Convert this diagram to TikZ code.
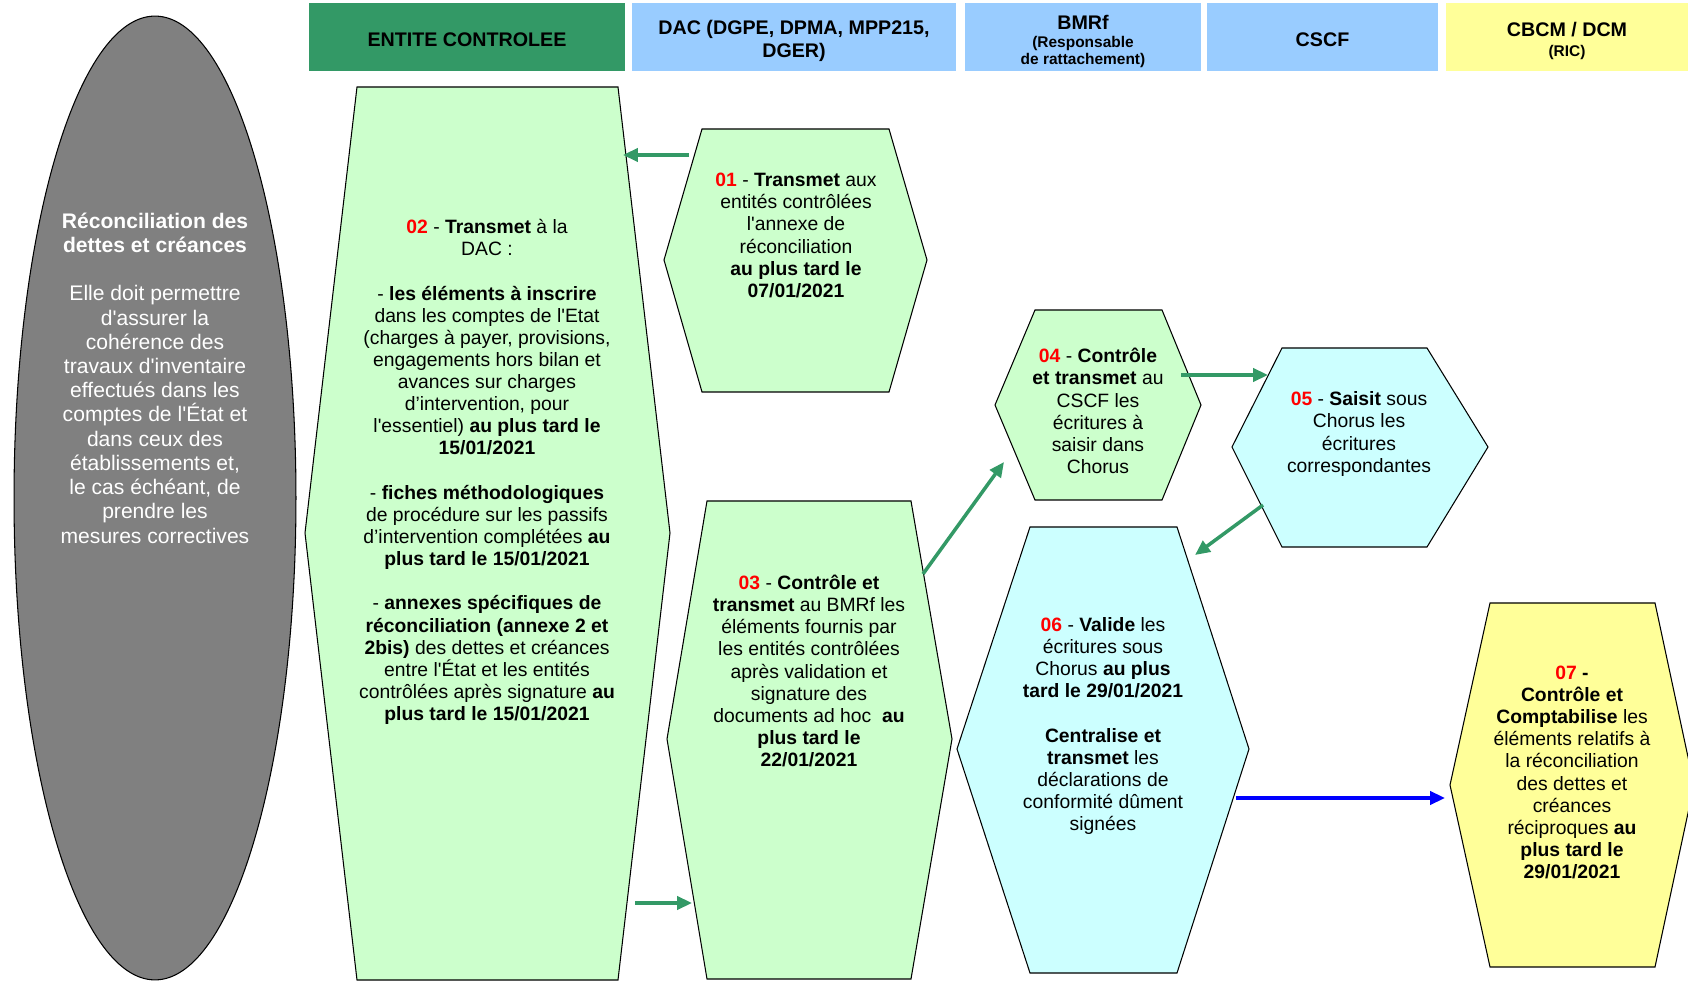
\documentclass[tikz,border=0pt]{standalone}
\usepackage{fontspec}
\setmainfont{Liberation Sans}[Ligatures=TeXOff]
\usepackage{xcolor}
\usepackage{tikz}
\usetikzlibrary{arrows.meta,positioning,shapes.geometric}
\definecolor{entitevert}{RGB}{51,153,102}
\definecolor{dacbleu}{RGB}{153,204,255}
\definecolor{ricjaune}{RGB}{255,255,153}
\definecolor{etapevert}{RGB}{204,255,204}
\definecolor{etapecyan}{RGB}{204,255,255}
\definecolor{ellipsegris}{RGB}{128,128,128}
\definecolor{numrouge}{RGB}{255,0,0}
\definecolor{flechebleu}{RGB}{0,0,255}
\newcommand{\numero}[1]{\textcolor{numrouge}{\textbf{#1}}}
\newcommand{\sousentete}[1]{{\fontsize{8.8}{9.8}\selectfont #1}}

\begin{document}
\begin{tikzpicture}[x=0.02cm,y=-0.02cm,
    entete/.style={inner sep=0pt,align=center,font=\fontsize{11.2}{12.9}\selectfont\bfseries},
    etape/.style={draw=black,line width=0.6pt},
    texte/.style={align=center,inner sep=0pt,font=\fontsize{11}{12.6}\selectfont},
    fleche/.style={-{Triangle[length=8.5pt,width=7.5pt]},line width=2pt,entitevert}]
                \useasboundingbox (0,0) rectangle (1688,982);
                % En-tetes des colonnes
                \fill[entitevert] (309,3) rectangle (625,71);
                \fill[dacbleu] (632,3) rectangle (956,71);
                \fill[dacbleu] (965,3) rectangle (1201,71);
                \fill[dacbleu] (1207,3) rectangle (1438,71);
                \fill[ricjaune] (1446,3) rectangle (1688,71);
                \node[entete] (hentite) at (467,39.5) {ENTITE CONTROLEE};
                \node[entete] (hdac) at (794,41) {DAC (DGPE, DPMA, MPP215,\\DGER)};
                \node[entete] (hbmrf) at (1083,41.5) {BMRf\\[-3pt]\sousentete{(Responsable}\\[-3pt]\sousentete{de rattachement)}};
                \node[entete] (hcscf) at (1322.5,39.5) {CSCF};
                \node[entete] (hcbcm) at (1567,41) {CBCM / DCM\\[-2pt]\sousentete{(RIC)}};
                % Ellipse de gauche
                \node[ellipse,draw=black,line width=0.6pt,fill=ellipsegris,minimum width=5.64cm,minimum height=19.28cm] (reconc) at (155,498) {};
                \node[align=center,inner sep=0pt,text=white,font=\fontsize{12}{13.8}\selectfont] (treconc) at (155,378)
                    {\textbf{Réconciliation des}\\\textbf{dettes et créances}\\[13.8pt]
                     Elle doit permettre\\d'assurer la\\cohérence des\\travaux d'inventaire\\effectués dans les\\comptes de l'État et\\dans ceux des\\établissements et,\\le cas échéant, de\\prendre les\\mesures correctives};
                % Etape 02
                \draw[etape,fill=etapevert] (357,87) -- (618,87) -- (670,533) -- (618,980) -- (357,980) -- (305,533) -- cycle;
                \node[texte] (t02) at (487,472)
                    {\numero{02} - \textbf{Transmet} à la\\DAC :\\[12.6pt]
                     - \textbf{les éléments à inscrire}\\dans les comptes de l'Etat\\(charges à payer, provisions,\\engagements hors bilan et\\avances sur charges\\d’intervention, pour\\l'essentiel) \textbf{au plus tard le}\\\textbf{15/01/2021}\\[12.6pt]
                     - \textbf{fiches méthodologiques}\\de procédure sur les passifs\\d’intervention complétées \textbf{au}\\\textbf{plus tard le 15/01/2021}\\[12.6pt]
                     - \textbf{annexes spécifiques de}\\\textbf{réconciliation (annexe 2 et}\\\textbf{2bis)} des dettes et créances\\entre l'État et les entités\\contrôlées après signature \textbf{au}\\\textbf{plus tard le 15/01/2021}};
                % Etape 01
                \draw[etape,fill=etapevert] (702,129) -- (889,129) -- (927,260) -- (889,392) -- (702,392) -- (664,260) -- cycle;
                \node[texte] (t01) at (796,235.5)
                    {\numero{01} - \textbf{Transmet} aux\\entités contrôlées\\l'annexe de\\réconciliation\\\textbf{au plus tard le}\\\textbf{07/01/2021}};
                % Etape 03
                \draw[etape,fill=etapevert] (707,501) -- (911,501) -- (952,739) -- (911,979) -- (707,979) -- (667,739) -- cycle;
                \node[texte] (t03) at (809,671)
                    {\numero{03} - \textbf{Contrôle et}\\\textbf{transmet} au BMRf les\\éléments fournis par\\les entités contrôlées\\après validation et\\signature des\\documents ad hoc \ \textbf{au}\\\textbf{plus tard le}\\\textbf{22/01/2021}};
                % Etape 04
                \draw[etape,fill=etapevert] (1035,310) -- (1162,310) -- (1201,405) -- (1162,500) -- (1035,500) -- (995,405) -- cycle;
                \node[texte] (t04) at (1098,411)
                    {\numero{04} - \textbf{Contrôle}\\\textbf{et transmet} au\\CSCF les\\écritures à\\saisir dans\\Chorus};
                % Etape 05
                \draw[etape,fill=etapecyan] (1282,348) -- (1427,348) -- (1488,447) -- (1427,547) -- (1282,547) -- (1232,447) -- cycle;
                \node[texte] (t05) at (1359,434)
                    {\numero{05} - \textbf{Saisit} sous\\Chorus les\\écritures\\correspondantes};
                % Etape 06
                \draw[etape,fill=etapecyan] (1030,527) -- (1177,527) -- (1249,749) -- (1177,973) -- (1030,973) -- (957,749) -- cycle;
                \node[texte] (t06) at (1103,726)
                    {\numero{06} - \textbf{Valide} les\\écritures sous\\Chorus \textbf{au plus}\\\textbf{tard le 29/01/2021}\\[12.6pt]
                     \textbf{Centralise et}\\\textbf{transmet} les\\déclarations de\\conformité dûment\\signées};
                % Etape 07
                \draw[etape,fill=ricjaune] (1490,603) -- (1655,603) -- (1694,785) -- (1655,967) -- (1490,967) -- (1450,785) -- cycle;
                \node[texte] (t07) at (1572,772.5)
                    {\numero{07} \textbf{-}\\\textbf{Contrôle et}\\\textbf{Comptabilise} les\\éléments relatifs à\\la réconciliation\\des dettes et\\créances\\réciproques \textbf{au}\\\textbf{plus tard le}\\\textbf{29/01/2021}};
                % Fleches
                \coordinate (f01a) at (689,155);  \coordinate (f01b) at (623,155);
                \coordinate (f02a) at (635,903);  \coordinate (f02b) at (692,903);
                \coordinate (f03a) at (923,574);  \coordinate (f03b) at (1004,462);
                \coordinate (f04a) at (1181,375); \coordinate (f04b) at (1268,375);
                \coordinate (f05a) at (1263,505); \coordinate (f05b) at (1195,555);
                \coordinate (f06a) at (1236,798); \coordinate (f06b) at (1445,798);
                \draw[fleche] (f01a) -- (f01b);
                \draw[fleche] (f02a) -- (f02b);
                \draw[fleche] (f03a) -- (f03b);
                \draw[fleche] (f04a) -- (f04b);
                \draw[fleche] (f05a) -- (f05b);
                \draw[fleche,flechebleu] (f06a) -- (f06b);
            \end{tikzpicture}
\end{document}
